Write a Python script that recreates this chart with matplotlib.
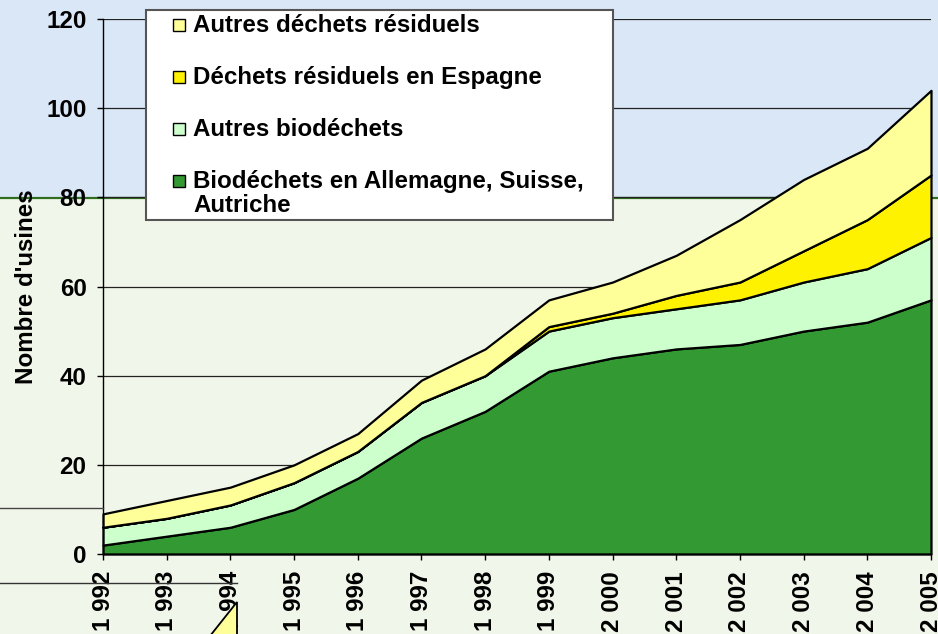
import matplotlib
matplotlib.use("Agg")
import matplotlib.pyplot as plt
from matplotlib.patches import Rectangle, Polygon
from matplotlib.lines import Line2D

# ---------------- data ----------------
years = [1992, 1993, 1994, 1995, 1996, 1997, 1998, 1999, 2000, 2001, 2002, 2003, 2004, 2005]
year_labels = ["1 992", "1 993", "1 994", "1 995", "1 996", "1 997", "1 998",
               "1 999", "2 000", "2 001", "2 002", "2 003", "2 004", "2 005"]
bio_all_sui_aut = [2, 4, 6, 10, 17, 26, 32, 41, 44, 46, 47, 50, 52, 57]
autres_bio = [4, 4, 5, 6, 6, 8, 8, 9, 9, 9, 10, 11, 12, 14]
resid_espagne = [0, 0, 0, 0, 0, 0, 0, 1, 1, 3, 4, 7, 11, 14]
autres_resid = [3, 4, 4, 4, 4, 5, 6, 6, 7, 9, 14, 16, 16, 19]
series_names = ["Biodéchets en Allemagne, Suisse,\nAutriche", "Autres biodéchets",
                "Déchets résiduels en Espagne", "Autres déchets résiduels"]
series_colors = ["#339933", "#CCFFCC", "#FFF200", "#FFFF99"]
y_ticks = [0, 20, 40, 60, 80, 100, 120]
y_label = "Nombre d'usines"

# ---------------- style ----------------
plt.rcParams["font.family"] = ["Liberation Sans", "DejaVu Sans"]
plt.rcParams["font.weight"] = "bold"
FS = 17.4

W, H = 938, 634
def fx(px):
    return px / W
def fy(py):
    return 1 - py / H

fig = plt.figure(figsize=(W / 100, H / 100), dpi=100, facecolor="#DAE7F6")

# slide background: lower light-green band with dark green top border
fig.patches.append(Rectangle((0, 0), 1, fy(198), transform=fig.transFigure,
                             fc="#F1F6EA", ec="none", zorder=-2))
fig.lines.append(Line2D([0, 1], [fy(198)] * 2, transform=fig.transFigure,
                        color="#2E6E1E", lw=1.6, zorder=-1))

ax = fig.add_axes([fx(103), fy(554), fx(931) - fx(103), fy(19) - fy(554)])
ax.patch.set_visible(False)

polys = ax.stackplot(years, bio_all_sui_aut, autres_bio, resid_espagne, autres_resid,
                     colors=series_colors, edgecolor="black", linewidth=1.6, zorder=3)
for p in polys:
    p.set_clip_on(False)

ax.set_xlim(years[0], years[-1])
ax.set_ylim(y_ticks[0], y_ticks[-1])
ax.set_yticks(y_ticks)
ax.set_xticks(years)
ax.set_xticklabels(year_labels, rotation=90, fontsize=FS, fontweight="bold")
ax.set_yticklabels([str(v) for v in y_ticks], fontsize=FS, fontweight="bold")
ax.tick_params(axis="both", direction="out", length=4.3, width=1, color="black")
ax.tick_params(axis="y", pad=7.5)
ax.tick_params(axis="x", pad=8)

ax.set_axisbelow(True)
ax.yaxis.grid(True, color="#222222", lw=0.9, zorder=1)
for s in ("top", "right"):
    ax.spines[s].set_visible(False)
for s in ("left", "bottom"):
    ax.spines[s].set_color("black")
    ax.spines[s].set_linewidth(1.0)
    ax.spines[s].set_zorder(4)

ax.set_ylabel(y_label, fontsize=FS, fontweight="bold")
ax.yaxis.set_label_coords(-0.079, 0.5)

# ---------------- legend (box + entries) ----------------
fig.patches.append(Rectangle((fx(146), fy(220)), fx(613) - fx(146), fy(10) - fy(220),
                             transform=fig.transFigure, fc="white", ec="#555555",
                             lw=1.5, zorder=5))
first_baseline, step = 32, 52
for i, (name, col) in enumerate(zip(series_names[::-1], series_colors[::-1])):
    base = first_baseline + i * step
    fig.patches.append(Rectangle((fx(173), fy(base - 1)), 12 / W, 12 / H,
                                 transform=fig.transFigure, fc=col, ec="black",
                                 lw=1.0, zorder=6))
    lines = name.split("\n")
    for j, line in enumerate(lines):
        fig.text(fx(193), fy(base + 24 * j), line, fontsize=FS, fontweight="bold",
                 va="baseline", ha="left", zorder=7)

# ---------------- stray slide elements ----------------
fig.lines.append(Line2D([0, fx(103)], [fy(508)] * 2, transform=fig.transFigure,
                        color="#444444", lw=1.0, zorder=2))
fig.lines.append(Line2D([0, fx(237)], [fy(583)] * 2, transform=fig.transFigure,
                        color="#333333", lw=1.0, zorder=2))
fig.patches.append(Polygon([(fx(237), fy(602)), (fx(237), fy(636)), (fx(210), fy(636))],
                           closed=True, transform=fig.transFigure, fc="#FFFF99",
                           ec="black", lw=1.3, zorder=2))
fig.lines.append(Line2D([fx(222), fx(237)], [fy(626)] * 2, transform=fig.transFigure,
                        color="black", lw=1.3, zorder=2))

fig.savefig("out.png", dpi=100, facecolor=fig.get_facecolor())
